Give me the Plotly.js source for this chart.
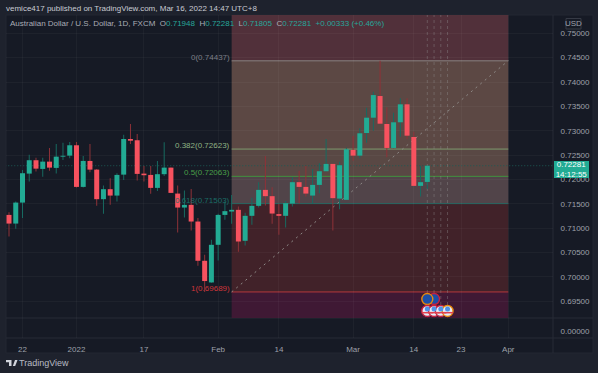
<!DOCTYPE html>
<html>
<head>
<meta charset="utf-8">
<script src="https://cdn.plot.ly/plotly-3.0.1.min.js"></script>
<style>html,body{margin:0;padding:0;background:#1e222d}#c{width:598px;height:373px}</style>
</head>
<body>
<div id="c"></div>
<script>
var opens  = [.71271,.71093,.71524,.72119,.72394,.72215,.72365,.72236,.72467,.72488,.72701,.71846,.72379,.72201,.71594,.71799,.71668,.72098,.7283,.72804,.72119,.72092,.71826,.72107,.72242,.71709,.71422,.71477,.71135,.70329,.69884,.70657,.71271,.7134,.71375,.70739,.71252,.71457,.71785,.71656,.71287,.71252,.71504,.71943,.71846,.71668,.71887,.72168,.72318,.71606,.7158,.72605,.72488,.72953,.73267,.73712,.73138,.72646,.73173,.73542,.72871,.71867,.71948];
var highs  = [.71328,.71545,.72195,.72508,.72447,.72447,.72646,.72728,.72754,.72769,.72769,.72482,.72728,.72215,.71873,.72025,.72127,.72918,.73138,.72933,.72277,.72277,.72379,.72763,.72242,.71873,.7177,.71805,.71205,.70452,.7076,.71293,.71545,.71682,.71442,.71313,.71621,.71943,.72482,.7184,.71498,.71559,.72045,.7218,.72277,.72215,.72332,.7283,.72318,.72365,.72652,.72892,.7305,.73472,.738,.74437,.7348,.73369,.73665,.73665,.7298,.72277,.72281];
var lows   = [.70827,.70985,.71205,.71955,.7216,.72057,.7218,.72119,.724,.72435,.71836,.71836,.72148,.71457,.71293,.71477,.71545,.7199,.72728,.71975,.71955,.71703,.71764,.72072,.71723,.70909,.71217,.7095,.70227,.69689,.69878,.70335,.7117,.71088,.70514,.70643,.71067,.71422,.71463,.71088,.70862,.71012,.71442,.71504,.71647,.71498,.71717,.7216,.7095,.71389,.7158,.72385,.72435,.72754,.73,.73132,.72455,.7264,.72877,.72824,.71867,.71647,.71805];
var closes = [.71093,.71524,.72127,.72394,.72221,.72365,.72242,.72467,.72482,.72701,.71846,.72379,.72201,.71594,.71799,.71668,.72092,.7283,.72795,.72113,.72086,.71826,.72107,.72242,.71723,.71422,.71477,.71135,.70329,.69913,.70657,.71271,.71348,.71375,.70725,.71252,.71457,.71785,.71656,.71299,.71252,.71512,.71943,.71846,.71709,.71887,.72168,.72318,.71615,.72291,.72619,.72488,.72947,.73267,.73732,.73144,.72646,.73173,.73542,.72898,.71867,.71943,.72281];

var xTickIndex = [2,10,20,31,40,51,60,67,74];
var xTickText  = ['22','2022','17','Feb','14','Mar','14','23','Apr'];
var yTicks = [.695,.70,.705,.71,.715,.72,.725,.73,.735,.74,.745,.75];

var fibLevels = [0.74437,0.72623,0.72063,0.71503,0.69689];
var fibNames  = ['0(0.74437)','0.382(0.72623)','0.5(0.72063)','0.618(0.71503)','1(0.69689)'];
var fibColors = ['#776a6a','#7e9a6e','#43953f','#22645f','#b5383c'];
var fibTextColors = ['#7d7f88','#8fb384','#4a9e48','#1b6d66','#d0353a'];
var fibStart = 33, fibEnd = 74;

var ausEventIndex = [63,62];
var ausEventLevel = [.69544,.69544];
var ausRing = ['#c8203f','#e8890c'];
var usEventIndex = [62,63,64,65];
var usEventLevel = [.69298,.69298,.69298,.69298];
var usRing = ['#c8203f','#c8203f','#c8203f','#e8890c'];

var W = 598, H = 373;
var px = function(x){return x/W;};
var py = function(y){return 1-y/H;};
var PANE = {l:6,r:553,t:15,split:318,b:338,foot:353,edge:593};

var red='#f7525f', green='#22ab94', redWick='#8f3238', greenWick='#176a61';
var idx = opens.map(function(_,i){return i;});
var bodyLow  = opens.map(function(o,i){return Math.min(o,closes[i]);});
var bodySize = opens.map(function(o,i){return Math.max(Math.abs(o-closes[i]),0.00018);});
var bodyColor= opens.map(function(o,i){return closes[i]>=o?green:red;});
var wickSize = highs.map(function(h,i){return h-lows[i];});
var wickColor= opens.map(function(o,i){return closes[i]>=o?greenWick:redWick;});

var traces = [
 {type:'bar',name:'range',x:idx,base:lows,y:wickSize,width:0.148,hoverinfo:'skip',marker:{color:wickColor,line:{width:0}}},
 {type:'bar',name:'body',x:idx,base:bodyLow,y:bodySize,width:0.74,hoverinfo:'skip',marker:{color:bodyColor,line:{width:0}}},
 {type:'scatter',mode:'none',x:[0],y:[0],yaxis:'y2',hoverinfo:'skip'},
 {type:'scatter',mode:'markers',x:ausEventIndex,y:ausEventLevel,hoverinfo:'skip',
  marker:{size:11,color:'#1d4fa6',line:{color:ausRing,width:1.4}}},
 {type:'scatter',mode:'markers',x:usEventIndex,y:usEventLevel,hoverinfo:'skip',
  marker:{size:11,color:'#e6ecf8',line:{color:usRing,width:1.4}}},
 {type:'scatter',mode:'markers',x:usEventIndex,y:usEventLevel.map(function(v){return v-0.00035;}),hoverinfo:'skip',
  marker:{size:8,symbol:'line-ew',color:'#e2404f',line:{color:'#e2404f',width:1.5}}},
 {type:'scatter',mode:'markers',x:usEventIndex,y:usEventLevel.map(function(v){return v+0.0004;}),hoverinfo:'skip',
  marker:{size:5,symbol:'circle',color:'#4f93e6',line:{width:0}}}
];

function zone(y0,y1,color){
 return {type:'rect',layer:'below',xref:'x',yref:'y',x0:fibStart,x1:fibEnd,y0:y0,y1:y1,fillcolor:color,line:{width:0}};
}
var TOP=0.75376, BOT=0.69154;
var shapes = [
 {type:'rect',layer:'below',xref:'paper',yref:'paper',x0:px(PANE.l),x1:px(PANE.edge),y0:py(PANE.foot),y1:py(PANE.t),fillcolor:'#161a25',line:{color:'#232733',width:1}},
 zone(fibLevels[0],TOP,'rgba(84,50,59,0.97)'),
 zone(fibLevels[1],fibLevels[0],'rgba(95,74,69,0.97)'),
 zone(fibLevels[2],fibLevels[1],'rgba(92,74,69,0.97)'),
 zone(fibLevels[3],fibLevels[2],'rgba(84,70,74,0.97)'),
 zone(fibLevels[4],fibLevels[3],'rgba(67,35,41,0.97)'),
 zone(BOT,fibLevels[4],'rgba(65,26,53,0.97)')
];
fibLevels.forEach(function(l,i){
 shapes.push({type:'line',layer:'below',xref:'x',yref:'y',x0:fibStart,x1:fibEnd,y0:l,y1:l,line:{color:fibColors[i],width:i===0?1.6:1}});
});
shapes.push({type:'line',layer:'below',xref:'x',yref:'y',x0:fibStart,x1:fibEnd,y0:fibLevels[4],y1:fibLevels[0],line:{color:'#8e8a87',width:1,dash:'2px,4px'}});
shapes.push({type:'line',layer:'below',xref:'x',yref:'y',x0:-1,x1:81,y0:closes[62],y1:closes[62],line:{color:'#1c5a55',width:1,dash:'1px,2px'}});
[62,63,64,65].forEach(function(i){
 shapes.push({type:'line',layer:'below',xref:'x',yref:'y',x0:i,x1:i,y0:.69298,y1:TOP,line:{color:'rgba(150,150,150,0.38)',width:1,dash:'3px,3px'}});
});
// pane dividers
[[PANE.l,PANE.edge,PANE.split,PANE.split],[PANE.l,PANE.edge,PANE.b,PANE.b],[PANE.r,PANE.r,PANE.t,PANE.foot]].forEach(function(s){
 shapes.push({type:'line',layer:'below',xref:'paper',yref:'paper',x0:px(s[0]),x1:px(s[1]),y0:py(s[2]),y1:py(s[3]),line:{color:'#272b36',width:1}});
});
// USD box
shapes.push({type:'rect',xref:'paper',yref:'paper',x0:px(566),x1:px(581),y0:py(29),y1:py(18.5),fillcolor:'rgba(0,0,0,0)',line:{color:'#363a45',width:1}});
// logo
shapes.push({type:'path',xref:'paper',yref:'paper',fillcolor:'#d1d4dc',line:{width:0},
 path:'M'+px(6)+','+py(360)+' L'+px(11.5)+','+py(360)+' L'+px(11.5)+','+py(366)+' L'+px(9)+','+py(366)+' L'+px(9)+','+py(362.2)+' L'+px(6)+','+py(362.2)+' Z'});
shapes.push({type:'path',xref:'paper',yref:'paper',fillcolor:'#d1d4dc',line:{width:0},
 path:'M'+px(12.8)+','+py(366)+' L'+px(15)+','+py(360)+' L'+px(17.5)+','+py(360)+' L'+px(15.2)+','+py(366)+' Z'});

var FONT='"Liberation Sans Narrow", "Liberation Sans", Arial, sans-serif';
function label(x,y,text,color,size,anchor,extra){
 var a={xref:'paper',yref:'paper',x:px(x),y:py(y),text:text,showarrow:false,xanchor:anchor||'left',yanchor:'middle',
  font:{family:FONT,size:size||8,color:color},borderpad:0,borderwidth:0};
 for(var k in (extra||{})) a[k]=extra[k];
 return a;
}
var teal='#26a69a', grey='#9ea1aa';
var ohlc = 'Australian Dollar / U.S. Dollar, 1D, FXCM  O<span style="color:'+teal+'">0.71948</span>  H<span style="color:'+teal+'">0.72281</span>  L<span style="color:'+teal+'">0.71805</span>  C<span style="color:'+teal+'">0.72281</span>  <span style="color:'+teal+'">+0.00333 (+0.46%)</span>';
var annotations=[
 label(6,8,'vemice417 published on TradingView.com, Mar 16, 2022 14:47 UTC+8','#c9ccd4',8),
 label(10,23.5,ohlc,'#a9acb5',8),
 label(573.5,23.5,'USD',grey,8,'center'),
 label(19,363,'TradingView','#b8bbc3',9),
 label(571.5,169.7,'0.72281<br>14:12:55','#ffffff',8,'center',{bgcolor:'#22ab94',width:35,height:17,align:'center'})
];
var labelY=[57,145.5,172.5,200,288.5];
fibNames.forEach(function(n,i){annotations.push(label(229.5,labelY[i],n,fibTextColors[i],8,'right'));});

var grid='rgba(255,255,255,0.035)';
var layout={
 width:W,height:H,margin:{l:0,r:0,t:0,b:0},paper_bgcolor:'#1e222d',plot_bgcolor:'rgba(0,0,0,0)',
 showlegend:false,barmode:'overlay',font:{family:FONT,size:8,color:grey},
 xaxis:{domain:[px(PANE.l),px(PANE.r)],range:[-0.445,80.63],anchor:'y2',tickmode:'array',tickvals:xTickIndex,ticktext:xTickText,
  showgrid:true,gridcolor:grid,gridwidth:1,zeroline:false,showline:false,ticks:'outside',ticklen:3,tickcolor:'rgba(0,0,0,0)',
  tickfont:{family:FONT,size:8,color:grey}},
 yaxis:{domain:[py(PANE.split),py(PANE.t)],range:[BOT,TOP],side:'right',anchor:'x',tickmode:'array',tickvals:yTicks,tickformat:'.5f',
  showgrid:true,gridcolor:grid,zeroline:false,showline:false,ticks:'outside',ticklen:5,tickcolor:'rgba(0,0,0,0)',tickfont:{family:FONT,size:8,color:grey}},
 yaxis2:{domain:[py(PANE.b),py(PANE.split)],range:[-1,2],side:'right',anchor:'x',tickmode:'array',tickvals:[0],tickformat:'.5f',
  showgrid:false,zeroline:false,showline:false,ticks:'outside',ticklen:5,tickcolor:'rgba(0,0,0,0)',tickfont:{family:FONT,size:8,color:grey}},
 shapes:shapes,annotations:annotations
};
Plotly.newPlot('c',traces,layout,{displayModeBar:false,staticPlot:true});
</script>
</body>
</html>
